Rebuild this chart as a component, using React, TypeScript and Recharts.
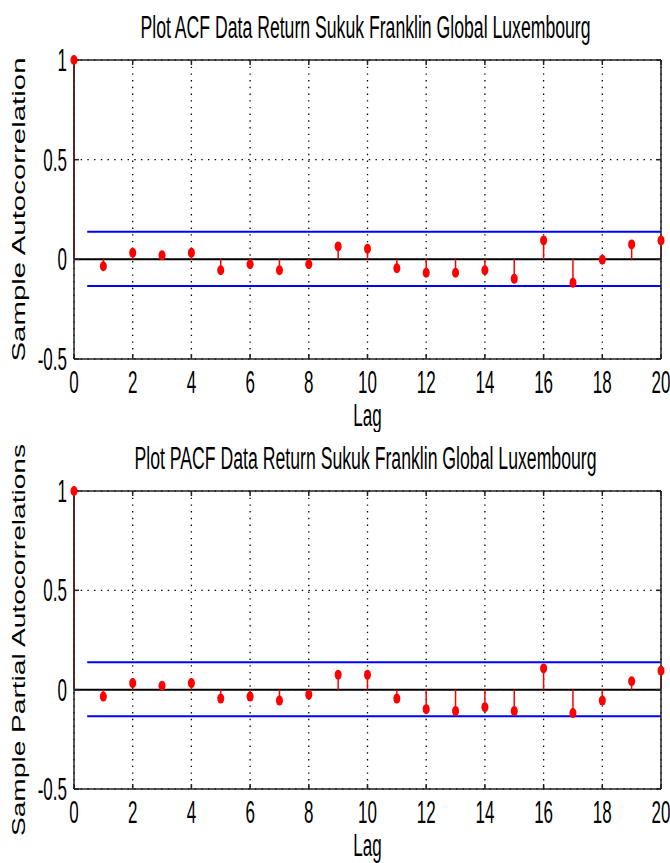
import React from 'react';
import {
  ComposedChart,
  Scatter,
  ErrorBar,
  XAxis,
  YAxis,
  CartesianGrid,
  ReferenceLine,
} from 'recharts';

const lags = [0, 1, 2, 3, 4, 5, 6, 7, 8, 9, 10, 11, 12, 13, 14, 15, 16, 17, 18, 19, 20];
const acfValues = [
  1, -0.035, 0.033, 0.02, 0.033, -0.055, -0.025, -0.055, -0.025, 0.065, 0.053,
  -0.045, -0.067, -0.067, -0.055, -0.098, 0.095, -0.118, -0.002, 0.075, 0.095,
];
const pacfValues = [
  1, -0.035, 0.033, 0.02, 0.033, -0.045, -0.035, -0.055, -0.025, 0.075, 0.075,
  -0.045, -0.098, -0.108, -0.088, -0.108, 0.107, -0.118, -0.055, 0.042, 0.095,
];
const confBounds = [0.138, -0.134];
const boundLagRange = [0.45, 20];
const xTicks = [0, 2, 4, 6, 8, 10, 12, 14, 16, 18, 20];
const yTicks = [-0.5, 0, 0.5, 1];
const xDomain = [0, 20];
const yDomain = [-0.5, 1];

const acfTitle = 'Plot ACF Data Return Sukuk Franklin Global Luxembourg';
const pacfTitle = 'Plot PACF Data Return Sukuk Franklin Global Luxembourg';
const acfYLabel = 'Sample Autocorrelation';
const pacfYLabel = 'Sample Partial Autocorrelations';
const xLabel = 'Lag';

const FONT = "'Liberation Sans', Arial, Helvetica, sans-serif";
const SY = 1.8;
const BORDER = '#222';

function buildRows(values: number[]) {
  return lags.map((lag, i) => {
    const v = values[i];
    return { lag, v, err: v >= 0 ? [v, 0] : [0, -v] };
  });
}

function StretchText(props: any) {
  const { x, y, anchor, children, textLength, sy = SY } = props;
  return (
    <text
      transform={`translate(${x},${y}) scale(1,${sy})`}
      x={0}
      y={0}
      textAnchor={anchor}
      fontSize={17}
      fontFamily={FONT}
      fill="#000"
      textLength={textLength}
      lengthAdjust={textLength ? 'spacingAndGlyphs' : undefined}
    >
      {children}
    </text>
  );
}

function XTick(props: any) {
  const { x, y, payload } = props;
  return (
    <StretchText x={x} y={y + 39} anchor="middle">
      {String(payload.value)}
    </StretchText>
  );
}

function YTick(props: any) {
  const { x, y, payload } = props;
  return (
    <StretchText x={x - 12} y={y + 11} anchor="end">
      {String(payload.value)}
    </StretchText>
  );
}

function EmptyTick() {
  return <g />;
}

function Marker(props: any) {
  const { cx, cy } = props;
  if (cx == null || cy == null) return null;
  return <ellipse cx={cx} cy={cy} rx={3.5} ry={5} fill="#ff0000" />;
}

function NoShape() {
  return <g />;
}

function Panel(props: any) {
  const { values, title, yLabel, yLabelLength, height, marginTop, xAxisHeight, titleLength } = props;
  const rows = buildRows(values);
  return (
    <ComposedChart
      width={670}
      height={height}
      data={rows}
      margin={{ top: marginTop - 1, right: 8, bottom: 0, left: 0 }}
    >
      <CartesianGrid stroke="#000" strokeWidth={1.3} strokeDasharray="1.4 5.3" />
      <XAxis
        dataKey="lag"
        type="number"
        domain={xDomain}
        ticks={xTicks}
        height={xAxisHeight}
        axisLine={{ stroke: BORDER, strokeWidth: 1.5 }}
        tickLine={{ stroke: BORDER, strokeWidth: 1.5 }}
        tickSize={-5}
        tickMargin={0}
        tick={<XTick />}
        interval={0}
        label={{
          content: (p: any) => {
            const vb = p.viewBox || { x: 74, y: 359, width: 587 };
            return (
              <StretchText x={vb.x + vb.width / 2} y={vb.y + 67} anchor="middle">
                {xLabel}
              </StretchText>
            );
          },
        }}
      />
      <XAxis
        xAxisId="top"
        dataKey="lag"
        orientation="top"
        type="number"
        domain={xDomain}
        ticks={xTicks}
        height={1}
        axisLine={{ stroke: BORDER, strokeWidth: 1.5 }}
        tickLine={{ stroke: BORDER, strokeWidth: 1.5 }}
        tickSize={-5}
        tickMargin={0}
        tick={<EmptyTick />}
        interval={0}
        label={{
          content: (p: any) => {
            const vb = p.viewBox || { x: 74, y: marginTop, width: 587 };
            return (
              <StretchText
                x={vb.x + vb.width / 2 - 2}
                y={vb.y - 21}
                anchor="middle"
                textLength={titleLength}
              >
                {title}
              </StretchText>
            );
          },
        }}
      />
      <YAxis
        type="number"
        domain={yDomain}
        ticks={yTicks}
        width={74}
        axisLine={{ stroke: BORDER, strokeWidth: 1.5 }}
        tickLine={{ stroke: BORDER, strokeWidth: 1.5 }}
        tickSize={-5}
        tickMargin={0}
        tick={<YTick />}
        interval={0}
        label={{
          content: (p: any) => {
            const vb = p.viewBox || { x: 0, y: marginTop, width: 74, height: 299 };
            const cy = vb.y + vb.height / 2;
            return (
              <text
                transform={`translate(25,${cy}) rotate(-90)`}
                x={0}
                y={0}
                textAnchor="middle"
                fontSize={18}
                fontFamily={FONT}
                fill="#000"
                textLength={yLabelLength}
                lengthAdjust="spacingAndGlyphs"
              >
                {yLabel}
              </text>
            );
          },
        }}
      />
      <YAxis
        yAxisId="right"
        orientation="right"
        type="number"
        domain={yDomain}
        ticks={yTicks}
        width={1}
        axisLine={{ stroke: BORDER, strokeWidth: 1.5 }}
        tickLine={{ stroke: BORDER, strokeWidth: 1.5 }}
        tickSize={-5}
        tickMargin={0}
        tick={<EmptyTick />}
        interval={0}
      />
      <ReferenceLine y={0} stroke="#000" strokeWidth={2} />
      <ReferenceLine
        segment={[
          { x: boundLagRange[0], y: confBounds[0] },
          { x: boundLagRange[1], y: confBounds[0] },
        ]}
        stroke="#0000ff"
        strokeWidth={2}
      />
      <ReferenceLine
        segment={[
          { x: boundLagRange[0], y: confBounds[1] },
          { x: boundLagRange[1], y: confBounds[1] },
        ]}
        stroke="#0000ff"
        strokeWidth={2}
      />
      <Scatter
        xAxisId="top"
        yAxisId="right"
        dataKey="v"
        shape={<NoShape />}
        isAnimationActive={false}
        legendType="none"
      />
      <Scatter dataKey="v" shape={<Marker />} isAnimationActive={false}>
        <ErrorBar
          dataKey="err"
          direction="y"
          width={0}
          stroke="#ff0000"
          strokeWidth={1.5}
          isAnimationActive={false}
        />
      </Scatter>
    </ComposedChart>
  );
}

export default function App() {
  return (
    <div
      style={{
        position: 'absolute',
        left: 0,
        top: 0,
        width: 670,
        height: 863,
        background: '#fff',
        overflow: 'hidden',
      }}
    >
      <Panel
        values={acfValues}
        title={acfTitle}
        yLabel={acfYLabel}
        yLabelLength={304}
        titleLength={450}
        height={432}
        marginTop={60}
        xAxisHeight={73}
      />
      <Panel
        values={pacfValues}
        title={pacfTitle}
        yLabel={pacfYLabel}
        yLabelLength={392}
        titleLength={462}
        height={431}
        marginTop={59}
        xAxisHeight={74}
      />
    </div>
  );
}
